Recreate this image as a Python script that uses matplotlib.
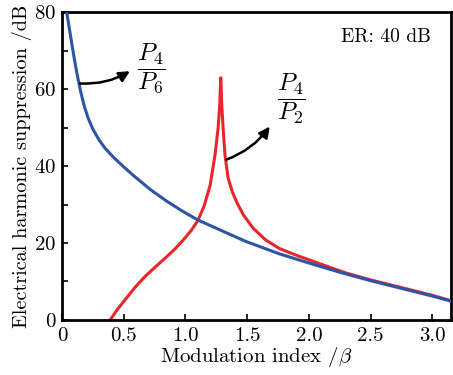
import matplotlib
matplotlib.use("Agg")
import matplotlib.pyplot as plt
from matplotlib.ticker import FixedLocator

plt.rcParams['font.family'] = ['cmr10', 'DejaVu Serif']
plt.rcParams['mathtext.fontset'] = 'cm'
plt.rcParams['axes.formatter.use_mathtext'] = True

# P4/P6 curve (blue)
beta_b = [0.038, 0.06, 0.08, 0.10, 0.12, 0.15, 0.18, 0.21, 0.25, 0.30,
          0.35, 0.42, 0.50, 0.577, 0.712, 0.847, 0.98, 1.10, 1.28, 1.49,
          1.76, 2.0, 2.25, 2.5, 2.75, 3.0, 3.15]
supp_b = [80, 75.6, 71.6, 67.8, 64.2, 59.5, 55.6, 52.6, 49.6, 46.8,
          44.6, 42.2, 39.8, 37.6, 34.0, 30.9, 28.2, 26.0, 23.4, 20.4,
          17.2, 14.8, 12.4, 10.2, 8.2, 6.2, 4.9]

# P4/P2 curve (red)
beta_r = [0.39, 0.45, 0.51, 0.59, 0.67, 0.75, 0.83, 0.91, 0.98, 1.05,
          1.10, 1.15, 1.20, 1.24, 1.265, 1.278, 1.286, 1.294, 1.305, 1.32,
          1.345, 1.38, 1.42, 1.47, 1.55, 1.65, 1.76, 1.82, 1.90, 2.09,
          2.3, 2.5, 2.75, 3.0, 3.15]
supp_r = [0, 2.8, 5.2, 8.4, 11.2, 13.6, 15.9, 18.3, 20.7, 23.4,
          25.8, 29.5, 35, 43, 50, 56, 63, 56, 50, 43,
          37, 33.3, 30.3, 27.3, 23.8, 20.8, 18.6, 17.8, 16.8, 14.6,
          12.2, 10.4, 8.4, 6.4, 5.0]

x_ticks = [0, 0.5, 1.0, 1.5, 2.0, 2.5, 3.0]
x_labels = ["0", "0.5", "1.0", "1.5", "2.0", "2.5", "3.0"]
y_ticks = [0, 20, 40, 60, 80]

fig = plt.figure(figsize=(4.53, 3.75), dpi=100)
ax = fig.add_axes([0.137, 0.147, 0.858, 0.820])

ax.plot(beta_r, supp_r, color="#e8262b", linewidth=2.2, zorder=2)
ax.plot(beta_b, supp_b, color="#2c55a6", linewidth=2.2, zorder=3)

ax.set_xlim(0, 3.15)
ax.set_ylim(0, 80)
ax.set_xticks(x_ticks)
ax.set_xticklabels(x_labels)
ax.set_yticks(y_ticks)
ax.yaxis.set_minor_locator(FixedLocator([10, 30, 50, 70]))
ax.tick_params(which="both", direction="in", length=4, width=1.2,
               labelsize=15, top=False, right=False)
ax.tick_params(axis="x", pad=5)
ax.tick_params(axis="y", pad=4)
for s in ax.spines.values():
    s.set_linewidth(2)

ax.set_xlabel(r"Modulation index /$\beta$", fontsize=15, labelpad=0)
ax.set_ylabel("Electrical harmonic suppression /dB", fontsize=14.6, labelpad=2)

ax.text(2.99, 73.7, "ER: 40 dB", ha="right", va="center", fontsize=14)

ax.text(0.72, 65.5, r"$\dfrac{P_4}{P_6}$", ha="center", va="center", fontsize=18)
ax.text(1.86, 57.6, r"$\dfrac{P_4}{P_2}$", ha="center", va="center", fontsize=18)

arrow = dict(arrowstyle="-|>", color="black", lw=1.8, mutation_scale=16,
             shrinkA=0, shrinkB=0)
ax.annotate("", xy=(0.55, 64.7), xytext=(0.146, 61.5),
            arrowprops=dict(arrow, connectionstyle="arc3,rad=0.15"))
ax.annotate("", xy=(1.683, 50.3), xytext=(1.333, 41.7),
            arrowprops=dict(arrow, connectionstyle="arc3,rad=0.15"))

fig.savefig("out.png", dpi=100)
